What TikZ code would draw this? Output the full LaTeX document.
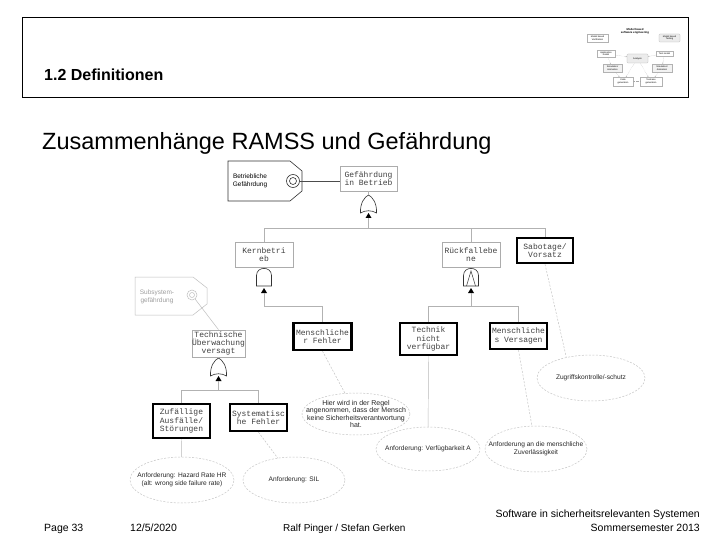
\documentclass[tikz,border=0pt]{standalone}
\usepackage{fontspec}
\setmainfont{Liberation Sans}
\newfontfamily\monof{Liberation Mono}
\usetikzlibrary{shapes.geometric,arrows.meta}
\tikzset{
  gbox/.style={draw=gray!65, line width=0.6pt, fill=white, inner sep=0pt, align=center,
    font=\monof\fontsize{8}{8.3}\selectfont, text=black!75},
  tbox/.style={gbox, draw=black, line width=2.4pt},
  tree/.style={draw=gray!60, line width=0.5pt},
  ell/.style={ellipse, draw=gray!45, dash pattern=on 2pt off 1.5pt, line width=0.5pt, inner sep=0pt},
  etxt/.style={align=center, font=\fontsize{6.6}{7.5}\selectfont, text=black!85, inner sep=0pt},
  econ/.style={draw=gray!50, line width=0.45pt, dash pattern=on 2pt off 1.5pt},
  thumb/.style={draw=gray!60, line width=0.3pt, fill=white, inner sep=0.3pt, align=center,
    font=\fontsize{2.3}{2.6}\selectfont},
  thar/.style={draw=gray!70, line width=0.3pt, densely dotted, -{Stealth[length=1.2pt,width=1pt]}},
  orgate/.pic={
    \draw[line width=0.6pt, black!80, fill=white] (-8,18) .. controls (-8.5,8) and (-4,2) .. (0,0)
      .. controls (4,2) and (8.5,8) .. (8,18) .. controls (3,15) and (-3,15) .. (-8,18) -- cycle;
    \fill[black] (-3,23) -- (3,23) -- (0,18) -- cycle;
  },
  andgate/.pic={
    \draw[line width=0.6pt, black!80, fill=white] (-7.5,18) -- (-7.5,7.5) .. controls (-7.5,-2) and (7.5,-2) .. (7.5,7.5)
      -- (7.5,18) -- cycle;
    \fill[black] (-3,25) -- (3,25) -- (0,20) -- cycle;
  },
  pandgate/.pic={
    \draw[line width=0.6pt, black!80, fill=white] (-7.5,18) -- (-7.5,7.5) .. controls (-7.5,-2) and (7.5,-2) .. (7.5,7.5)
      -- (7.5,18) -- cycle;
    \draw[line width=0.5pt, black!80] (-4.5,18) -- (0,3) -- (4.5,18);
    \fill[black] (-3,25) -- (3,25) -- (0,20) -- cycle;
  }
}
\begin{document}
\begin{tikzpicture}[x=1pt,y=-1pt]
\useasboundingbox (0,0) rectangle (720,540);
\fill[white] (0,0) rectangle (720,540);

% header
\draw[line width=0.8pt] (22,17) rectangle (688,97);
\node[anchor=base west, inner sep=0pt, font=\bfseries\fontsize{16}{18}\selectfont] (hd) at (44,81) {1.2 Definitionen};

% thumbnail
\node[font=\bfseries\fontsize{2.8}{3.2}\selectfont, align=center, inner sep=0pt] (tt) at (635,31) {Model based\\software engineering};
\node[thumb, minimum width=21, minimum height=8] (t1) at (597.5,38) {Model based\\Verification};
\node[thumb, fill=gray!15, rounded corners=1pt, minimum width=21, minimum height=8] (t2) at (669.5,38) {Model based\\Testing};
\node[thumb, minimum width=18, minimum height=7] (t3) at (606,53.5) {Application\\model};
\node[thumb, minimum width=17, minimum height=5] (t4) at (664.5,53.5) {Test model};
\node[thumb, fill=gray!15, rounded corners=1pt, minimum width=21, minimum height=9] (t5) at (637.5,58.5) {Analysis};
\node[thumb, fill=gray!10, minimum width=19, minimum height=8] (t6) at (612.5,68) {Simulation/\\Animation};
\node[thumb, fill=gray!10, minimum width=20, minimum height=8] (t7) at (662,68) {Simulation/\\Animation};
\node[thumb, minimum width=20, minimum height=9] (t8) at (623,81.5) {Code\\generation};
\node[thumb, minimum width=22, minimum height=9] (t9) at (651,81.5) {Testcase\\generation};
\draw[thar] (t3) -- (t5);
\draw[thar] (t4) -- (t5);
\draw[thar] (t3) -- (t6);
\draw[thar] (t4) -- (t7);
\draw[thar] (t6) -- (t8);
\draw[thar] (t7) -- (t9);
\draw[thar] (t5) -- (t8);
\draw[thar] (t5) -- (t9);
\draw[thar] (t9) -- (t8);

% title
\node[anchor=base west, inner sep=0pt, font=\fontsize{23.5}{26}\selectfont] (title) at (42,150) {Zusammenhänge RAMSS und Gefährdung};

% tag Betriebliche Gefaehrdung
\draw[line width=0.6pt, black!80, fill=white] (228,161) -- (290,161) -- (302,171) -- (302,191) -- (290,201) -- (228,201) -- cycle;
\node[align=center, inner sep=0pt, font=\fontsize{6.5}{8.5}\selectfont] (bgt) at (250,181) {Betriebliche\\Gefährdung};
\node[circle, draw=black!80, line width=0.6pt, minimum size=13pt, inner sep=0pt] (c1) at (293,181) {};
\draw[line width=0.6pt, black!80] (c1) circle[radius=3.5];

% tag Subsystemgefaehrdung
\draw[line width=0.5pt, gray!50, fill=white] (135,277) -- (193,277) -- (207,288) -- (207,304) -- (193,315) -- (135,315) -- cycle;
\node[align=center, inner sep=0pt, text=gray!75, font=\fontsize{6.5}{8}\selectfont] (sgt) at (157,297) {Subsystem-\\gefährdung};
\node[circle, draw=gray!50, line width=0.5pt, minimum size=10pt, inner sep=0pt] (c2) at (192,295) {};
\draw[line width=0.5pt, gray!50] (c2) circle[radius=2.5];

% event boxes
\node[gbox, minimum width=57, minimum height=25] (gib) at (368.5,178.5) {Gefährdung\\in Betrieb};
\node[gbox, minimum width=58, minimum height=25] (kern) at (264,254.5) {Kernbetri\\eb};
\node[gbox, minimum width=58, minimum height=25] (rueck) at (471,254.5) {Rückfallebe\\ne};
\node[tbox, minimum width=56, minimum height=25] (sab) at (545,250.5) {Sabotage/\\Vorsatz};
\node[gbox, minimum width=53, minimum height=27] (tech) at (218.5,343.5) {Technische\\Überwachung\\versagt};
\node[tbox, minimum width=58, minimum height=27] (mf) at (322.5,336.5) {Menschliche\\r Fehler};
\node[tbox, minimum width=57, minimum height=32] (tnv) at (428.5,339) {Technik\\nicht\\verfügbar};
\node[tbox, minimum width=57, minimum height=26] (mv) at (518.5,336) {Menschliche\\s Versagen};
\node[tbox, minimum width=57, minimum height=34] (zuf) at (181.5,421) {Zufällige\\Ausfälle/\\Störungen};
\node[tbox, minimum width=57, minimum height=27] (sys) at (258.5,417.5) {Systematisc\\he Fehler};

% gates
\pic at (368.5,195) {orgate};
\pic at (264,268) {andgate};
\pic at (471,268) {pandgate};
\pic at (218.5,358) {orgate};
\coordinate (g1i) at (368.5,195);
\coordinate (g1o) at (368.5,218);
\coordinate (g2o) at (264,293);
\coordinate (g3o) at (471,293);
\coordinate (g4i) at (218.5,358);
\coordinate (g4o) at (218.5,381);
\coordinate (j1) at (368.5,228);
\coordinate (j2) at (264,306);
\coordinate (j3) at (471,306);
\coordinate (j4) at (218.5,390);

% tree connectors
\draw[line width=0.6pt, black!70] (c1.east) -- (c1.east -| gib.west);
\draw[tree] (gib.south) -- (g1i);
\draw[tree] (g1o) -- (j1);
\draw[tree] (j1) -| (kern.north);
\draw[tree] (j1) -| (rueck.north);
\draw[tree] (j1) -| (sab.north);
\draw[tree] (g2o) -- (j2);
\draw[tree] (j2) -| (mf.north);
\draw[tree] (g3o) -- (j3);
\draw[tree] (j3) -| (tnv.north);
\draw[tree] (j3) -| (mv.north);
\draw[tree] (tech.south) -- (g4i);
\draw[tree] (g4o) -- (j4);
\draw[tree] (j4) -| (zuf.north);
\draw[tree] (j4) -| (sys.north);
\draw[draw=gray!50, line width=0.5pt] (c2) -- (tech.north);

% ellipses
\node[ell, minimum width=108, minimum height=42] (hier) at (356,414) {};
\node[etxt, font=\fontsize{7}{7.5}\selectfont] at (hier) {Hier wird in der Regel\\angenommen, dass der Mensch\\keine Sicherheitsverantwortung\\hat.};
\node[ell, minimum width=104, minimum height=44] (verf) at (428,449) {};
\node[etxt] at (verf) {Anforderung: Verfügbarkeit A};
\node[ell, minimum width=102, minimum height=46] (mz) at (536,449) {};
\node[etxt] at (mz) {Anforderung an die menschliche\\Zuverlässigkeit};
\node[ell, minimum width=108, minimum height=46] (zug) at (591,378) {};
\node[etxt] at (zug) {Zugriffskontrolle/-schutz};
\node[ell, minimum width=104, minimum height=46] (haz) at (182,480) {};
\node[etxt] at (haz) {Anforderung: Hazard Rate HR\\(alt: wrong side failure rate)};
\node[ell, minimum width=102, minimum height=46] (sil) at (294,480) {};
\node[etxt] at (sil) {Anforderung: SIL};

% ellipse connectors
\draw[econ] (mf.south) -- (hier);
\draw[draw=gray!55, line width=0.45pt] (tnv.south) -- (verf);
\draw[econ] (mv.south) -- (mz);
\draw[econ] (sab.south) -- (zug.140);
\draw[draw=gray!55, line width=0.45pt] (zuf.south) -- (haz);
\draw[econ] (sys.south) -- (sil);

% footer
\node[anchor=base west, inner sep=0pt, font=\fontsize{10.5}{12}\selectfont] (f1) at (44,531) {Page 33};
\node[anchor=base west, inner sep=0pt, font=\fontsize{10.5}{12}\selectfont] (f2) at (130,531) {12/5/2020};
\node[anchor=base west, inner sep=0pt, font=\fontsize{10}{12}\selectfont] (f3) at (283,531) {Ralf Pinger / Stefan Gerken};
\node[anchor=base east, inner sep=0pt, font=\fontsize{10.5}{12}\selectfont] (f4) at (700,517) {Software in sicherheitsrelevanten Systemen};
\node[anchor=base east, inner sep=0pt, font=\fontsize{10.5}{12}\selectfont] (f5) at (700,531) {Sommersemester 2013};
\end{tikzpicture}
\end{document}
